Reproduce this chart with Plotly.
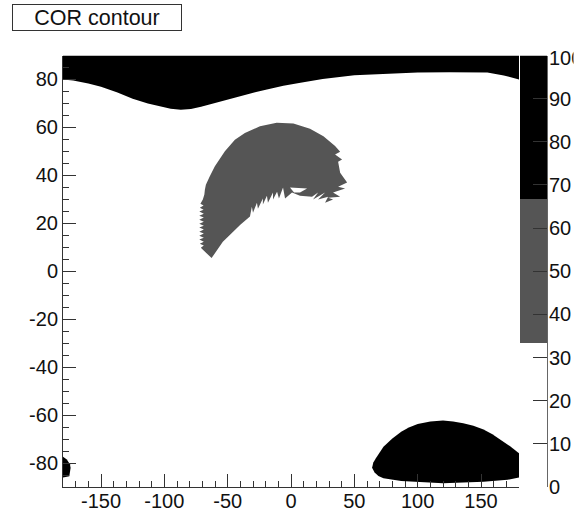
import plotly.graph_objects as go

W, H = 587, 515

title_text = "COR contour"
lon_ticks = [-150, -100, -50, 0, 50, 100, 150]
lon_labels = ["-150", "-100", "-50", "0", "50", "100", "150"]
lat_ticks = [-80, -60, -40, -20, 0, 20, 40, 60, 80]
lat_labels = ["-80", "-60", "-40", "-20", "0", "20", "40", "60", "80"]
palette_ticks = [0, 10, 20, 30, 40, 50, 60, 70, 80, 90]

# Upper (black) region: lower boundary
north_lon = [-180, -172, -160, -150, -137, -125, -113, -103, -95, -87, -79, -71, -58, -45, -32, -19, -6, 7.5, 25, 50, 75, 100, 125, 155, 168, 180]
north_lat = [80, 79.6, 78.3, 77, 74.6, 72, 70, 68.6, 67.8, 67.4, 67.7, 68.6, 70.5, 72.4, 74.2, 75.8, 77.4, 78.6, 80.2, 81.8, 82.5, 82.9, 83, 82.9, 81.7, 80]

# Lower-right (black) region outline
south_lon = [64, 65, 67, 70, 73, 80, 87, 93, 100, 110, 120, 128, 136, 144, 152, 159, 165.7, 173, 180, 180, 171, 152, 120, 87, 73, 69, 66]
south_lat = [-82, -79.8, -78, -75.5, -73.2, -69.8, -67, -65.2, -63.7, -62.7, -62.3, -62.7, -63.4, -64.5, -66, -68, -70.4, -73, -75.9, -86, -87, -87.8, -88.4, -87.5, -86.3, -85.4, -84]

# Lower-left (black) region outline
corner_lon = [-180, -177, -174.5, -174, -175, -180]
corner_lat = [-77.4, -78.5, -80.5, -82, -85.5, -86]

# Middle (grey) region outline
mid_lon = [-62.7, -68, -71.2, -68.8, -72, -68.8, -72.4, -68.8, -72.4, -68.8, -72.4, -68.8, -72.4, -68.8, -72.4, -68.8,
           -72.4, -68.8, -72.4, -68.8, -72.4, -69, -72, -69, -71.5, -69.6, -68.4, -68, -67.2, -64.1, -60.1, -52.2,
           -44.3, -36.4, -24.5, -11.3, 1.9, 15.0, 25.6, 34.8, 38.8, 34.8, 40.3, 37.2, 38.8, 44.3, 37.2, 42.7, 33.2,
           38.8, 29.3, 33.2, 26.9, 29.3, 21.4, 26.9, 17.4, 21.4, 16.6, 7.1, 0.8, -4.7, -6.3, -9.5, -11, -14.2, -14.2,
           -18.2, -19, -22.2, -22.2, -26.1, -26.9, -30, -30.9, -32.4, -40, -53.8, -62.7]
mid_lat = [5.5, 8.1, 9.8, 10.7, 11.5, 12.3, 13.2, 14, 14.8, 15.7, 16.5, 17.4, 18.2, 19, 19.8, 20.7,
           21.5, 22.4, 23.2, 24, 24.9, 25.7, 26.5, 27.4, 28.2, 29.9, 32, 34, 36.1, 39.6, 43.8, 50.1,
           54.9, 57.7, 60.5, 61.9, 61.6, 59.4, 56.3, 52.2, 49.9, 48.7, 46.6, 45.7, 41.1, 37, 35.3, 34.5, 32.8,
           31.1, 30.7, 29.9, 28.6, 31.1, 29.9, 32.8, 29.9, 32.8, 31.1, 31.5, 32.8, 30.3, 34.9, 30.3, 33.2, 29.9, 32.8,
           28.6, 31.5, 27.8, 30.3, 26.1, 28.6, 24.4, 26.9, 22.8, 19.4, 12.3, 5.5]

# Small opening in the middle region
hole_lon = [-0.8, 12.7, 7.1, 2.4]
hole_lat = [34.9, 34.5, 32.8, 32.8]

# Palette bands: (lower edge, upper edge)
band_low = [33.4, 66.6]
band_high = [66.6, 100]

GREY = "#555555"
BLACK = "#000000"
FONT = "Liberation Sans"
AXIS = "#333333"
TEXT = "#111111"


def region(lon, lat, color):
    return go.Scatter(
        x=lon, y=lat, mode="lines", fill="toself", fillcolor=color,
        line=dict(width=0, color=color), hoverinfo="skip", showlegend=False,
        xaxis="x", yaxis="y",
    )


fig = go.Figure()
fig.add_trace(region(north_lon + [180, -180], north_lat + [90, 90], BLACK))
fig.add_trace(region(south_lon, south_lat, BLACK))
fig.add_trace(region(corner_lon, corner_lat, BLACK))
fig.add_trace(region(mid_lon, mid_lat, GREY))
fig.add_trace(region(hole_lon, hole_lat, "#ffffff"))

for lo, hi, c in zip(band_low, band_high, [GREY, BLACK]):
    fig.add_trace(go.Bar(
        x=[0], y=[hi - lo], base=[lo], width=[1], marker=dict(color=c, line=dict(width=0)),
        xaxis="x2", yaxis="y2", hoverinfo="skip", showlegend=False,
    ))

fig.update_layout(
    width=W, height=H, autosize=False,
    margin=dict(l=0, r=0, t=0, b=0),
    paper_bgcolor="white", plot_bgcolor="white",
    showlegend=False, barmode="overlay",
    font=dict(family=FONT, color=TEXT, size=20),
    xaxis=dict(
        domain=[63 / W, 519 / W], range=[-180, 180], anchor="y", automargin=False,
        tickmode="array", tickvals=lon_ticks, ticktext=lon_labels, ticks="inside", ticklen=13, tickwidth=1,
        tickcolor=AXIS, showline=True, linecolor=AXIS, linewidth=1, showgrid=False, zeroline=False,
        minor=dict(dtick=10, tick0=0, ticks="inside", ticklen=6, tickwidth=1, tickcolor=AXIS, showgrid=False),
        tickfont=dict(family=FONT, size=20, color=TEXT), ticklabelstandoff=-4,
    ),
    yaxis=dict(
        domain=[(H - 487) / H, (H - 55.5) / H], range=[-90, 90], anchor="x", automargin=False,
        tickmode="array", tickvals=lat_ticks, ticktext=lat_labels, ticks="inside", ticklen=13, tickwidth=1,
        tickcolor=AXIS, showline=True, linecolor=AXIS, linewidth=1, showgrid=False, zeroline=False,
        minor=dict(dtick=5, tick0=0, ticks="inside", ticklen=6, tickwidth=1, tickcolor=AXIS, showgrid=False),
        tickfont=dict(family=FONT, size=20, color=TEXT),
    ),
    xaxis2=dict(
        domain=[520 / W, 547 / W], range=[-0.5, 0.5], anchor="y2", automargin=False,
        visible=False, showgrid=False, zeroline=False,
    ),
    yaxis2=dict(
        domain=[(H - 487) / H, (H - 55.5) / H], range=[0, 100], anchor="x2", side="right", automargin=False,
        tickmode="array", tickvals=palette_ticks, ticks="inside", ticklen=14, tickwidth=1,
        tickcolor=AXIS, showline=True, linecolor="#666666", linewidth=1, showgrid=False, zeroline=False,
        tickfont=dict(family=FONT, size=20, color=TEXT), ticklabelstandoff=-3,
    ),
    annotations=[
        dict(
            text=title_text, xref="paper", yref="paper", xanchor="left", yanchor="top",
            x=12 / W, y=1 - 4.5 / H, width=168, height=25, align="center", valign="middle",
            showarrow=False, bordercolor="#333333", borderwidth=1, borderpad=0,
            font=dict(family=FONT, size=21.5, color=TEXT), bgcolor="white",
        ),
        dict(
            text="100", xref="paper", yref="paper", xanchor="left", yanchor="middle",
            x=547.5 / W, y=1 - 58 / H, width=24.5, height=24, align="left", valign="middle",
            showarrow=False, borderpad=0,
            font=dict(family=FONT, size=20, color=TEXT),
        ),
    ],
)

fig.write_html("out.html", config=dict(displayModeBar=False), post_script="document.body.style.margin='0';")
